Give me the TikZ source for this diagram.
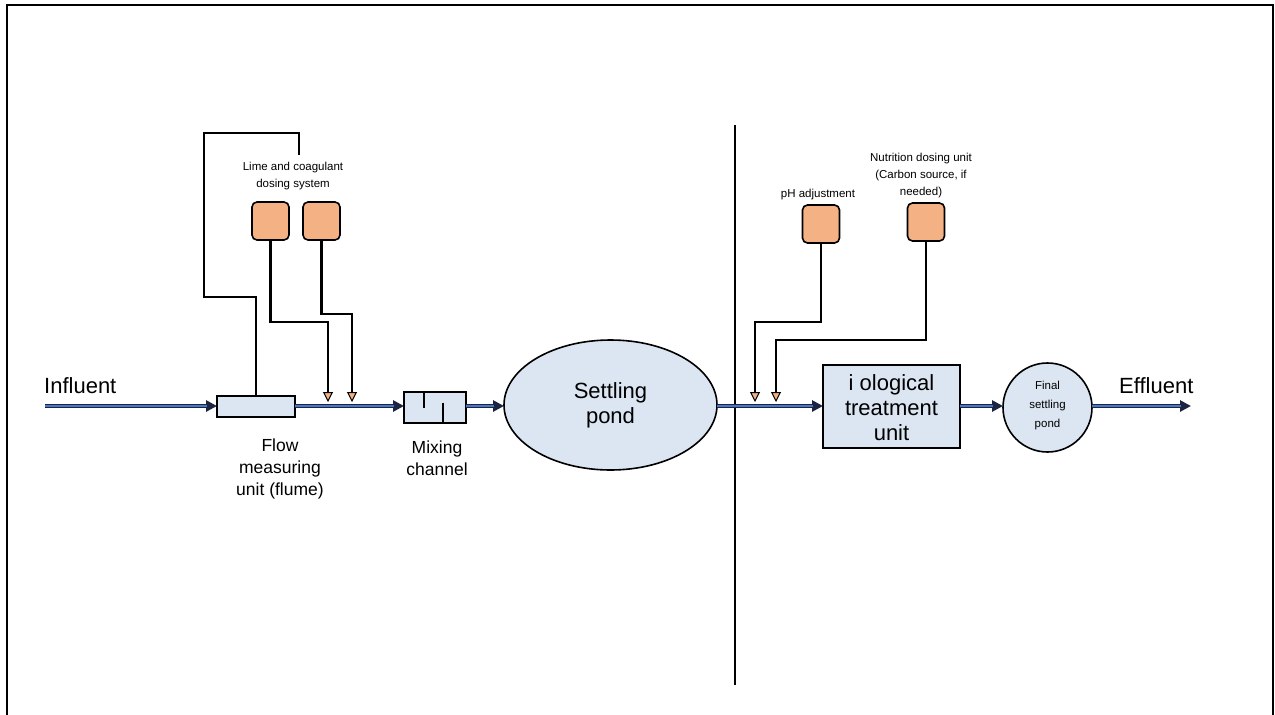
\documentclass[tikz,border=0pt]{standalone}
\usepackage{fontspec}
\setmainfont{Liberation Sans}
\usetikzlibrary{arrows.meta,shapes.geometric}
\definecolor{boxblue}{HTML}{DCE6F2}
\definecolor{dosorange}{HTML}{F4B183}
\definecolor{navy}{HTML}{1B2440}
\definecolor{flowblue}{HTML}{4A78C8}
\tikzset{
  unit/.style={draw=black,line width=1.6pt,fill=boxblue,inner sep=0pt,outer sep=0pt},
  doser/.style={draw=black,line width=1.6pt,fill=dosorange,rounded corners=5pt,minimum width=37pt,minimum height=38pt,inner sep=0pt,outer sep=0pt},
  flowout/.style={draw=navy,line width=4.4pt,-{Triangle[length=11pt,width=11pt,fill=navy]}},
  flowin/.style={draw=flowblue,line width=1.6pt,shorten >=10pt},
  dose/.style={draw=black,line width=2.4pt,-{Triangle[length=10pt,width=10pt,fill=dosorange,line width=1pt]}},
  wire/.style={draw=black,line width=2pt},
  big/.style={font=\fontsize{22}{25}\selectfont,align=center,inner sep=0pt},
  mid/.style={font=\fontsize{17.5}{22}\selectfont,align=center,inner sep=0pt},
  small/.style={font=\fontsize{11.5}{17}\selectfont,align=center,inner sep=0pt},
  tiny/.style={font=\fontsize{11.5}{19}\selectfont,align=center,inner sep=0pt},
}
\begin{document}
\begin{tikzpicture}[x=1pt,y=-1pt]
\useasboundingbox (0,0) rectangle (1275,715);
% frame
\draw[line width=1.4pt] (7,716) -- (7,5) -- (1273,5) -- (1273,716);
% divider
\draw[line width=1.6pt] (735,125) -- (735,685);

% process units
\node[unit,minimum width=78pt,minimum height=21pt] (flume) at (256,406.5) {};
\node[unit,minimum width=62pt,minimum height=31pt] (mix) at (435,407.5) {};
\draw[line width=1.6pt] (424,392) -- (424,408);
\draw[line width=1.6pt] (443,423) -- (443,403);
\node[unit,ellipse,minimum width=213pt,minimum height=130pt] (pond) at (610.5,405) {};
\node[big] (pondlbl) at (610.5,405) {Settling\\pond};
\node[unit,minimum width=137pt,minimum height=83pt] (bio) at (891.5,406.5) {};
\node[big] (biolbl) at (891.5,408) {i ological\\treatment\\unit};
\node[unit,circle,minimum size=89pt] (fin) at (1047.5,407.5) {};
\node[tiny] (finlbl) at (1047.5,406) {Final\\settling\\pond};

% end points
\coordinate (in) at (45,406);
\coordinate (out) at (1191,406);

% flow lines
\draw[flowout] (in) -- (flume.west |- in);
\draw[flowin] (in) -- (flume.west |- in);
\draw[flowout] (flume.east |- in) -- (mix.west |- in);
\draw[flowin] (flume.east |- in) -- (mix.west |- in);
\draw[flowout] (mix.east |- in) -- (pond.west |- in);
\draw[flowin] (mix.east |- in) -- (pond.west |- in);
\draw[flowout] (pond.east |- in) -- (bio.west |- in);
\draw[flowin] (pond.east |- in) -- (bio.west |- in);
\draw[flowout] (bio.east |- in) -- (fin.west |- in);
\draw[flowin] (bio.east |- in) -- (fin.west |- in);
\draw[flowout] (fin.east |- in) -- (out);
\draw[flowin] (fin.east |- in) -- (out);

% labels
\node[big,anchor=west] (inlbl) at (44,386) {Influent};
\node[big,anchor=west] (outlbl) at (1119,386) {Effluent};
\node[mid] (flumelbl) at (280,469) {Flow\\measuring\\unit (flume)};
\node[mid] (mixlbl) at (437,458) {Mixing\\channel};

% dosing units left
\node[doser] (d1) at (270.5,221) {};
\node[doser] (d2) at (321.5,221) {};
\node[small] (limelbl) at (293,176.5) {Lime and coagulant\\dosing system};
\coordinate (a1) at (328,402);
\coordinate (a2) at (352,402);
\draw[dose] (d1.south) -- (d1.south |- 0,322) -- (a1 |- 0,322) -- (a1);
\draw[dose] (d2.south) -- (d2.south |- 0,314) -- (a2 |- 0,314) -- (a2);
% feedback wire from flume
\coordinate (fbend) at (299,155);
\draw[wire] (flume.north) -- (256,297) -- (204,297) -- (204,133) -- (299,133) -- (fbend);

% dosing units right
\node[doser] (ph) at (821,224) {};
\node[doser] (nut) at (926,222) {};
\node[small] (phlbl) at (818,195) {pH adjustment};
\node[small] (nutlbl) at (921,176) {Nutrition dosing unit\\(Carbon source, if\\needed)};
\coordinate (a3) at (755,402);
\coordinate (a4) at (776,402);
\draw[dose] (ph.south) -- (ph.south |- 0,322) -- (a3 |- 0,322) -- (a3);
\draw[dose] (nut.south) -- (nut.south |- 0,340) -- (a4 |- 0,340) -- (a4);
\end{tikzpicture}
\end{document}
